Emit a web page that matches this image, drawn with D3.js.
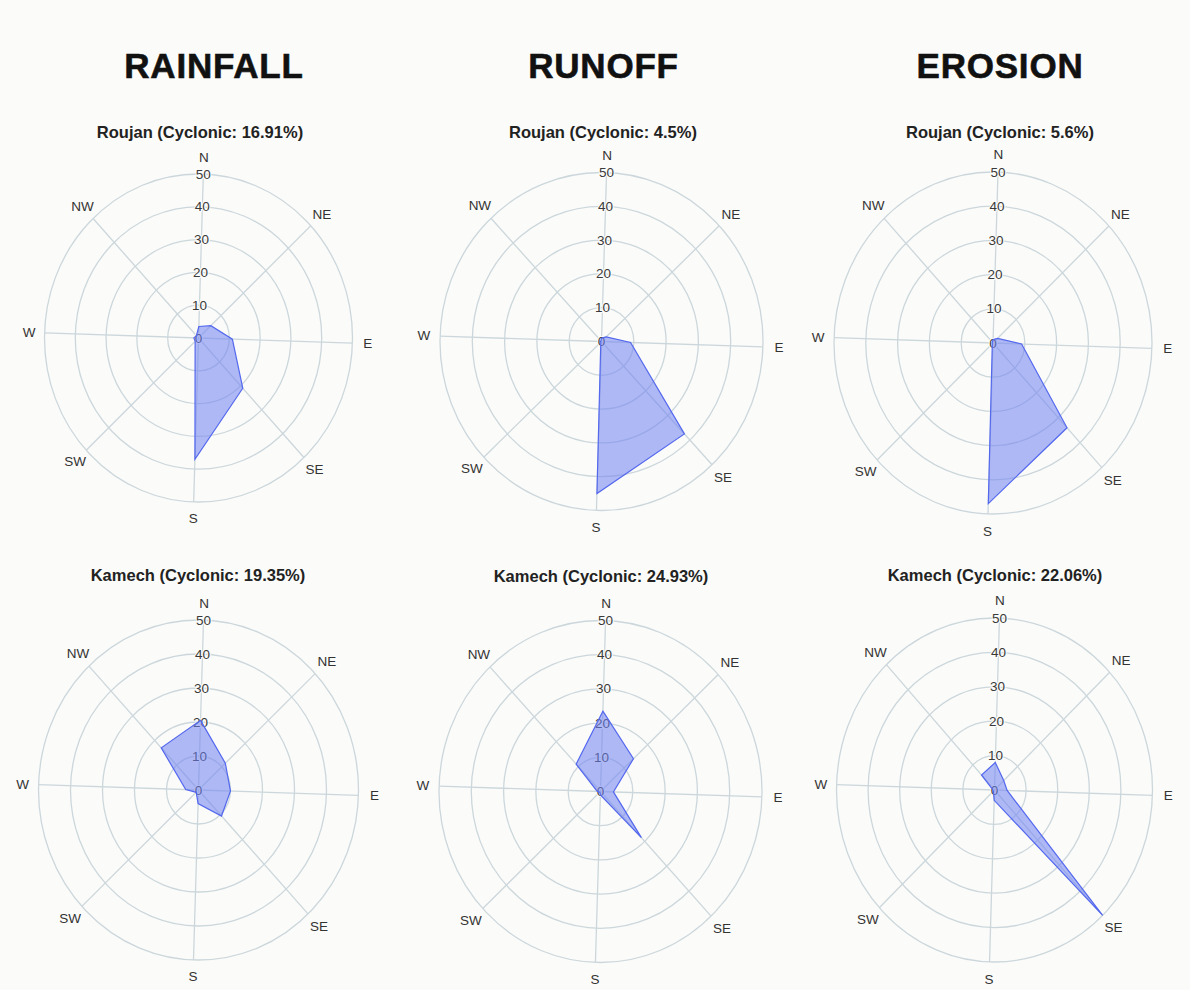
<!DOCTYPE html>
<html>
<head>
<meta charset="utf-8">
<script src="https://cdn.jsdelivr.net/npm/d3@7/dist/d3.min.js"></script>
<style>
  html, body { margin: 0; padding: 0; background: #fbfbf9; }
  svg { display: block; }
</style>
</head>
<body>
<svg id="chart" width="1190" height="990"></svg>
<script>
// ---------------- DATA ----------------
const directions = ["N", "NE", "E", "SE", "S", "SW", "W", "NW"];
const ticks = [0, 10, 20, 30, 40, 50];
const columnTitles = ["RAINFALL", "RUNOFF", "EROSION"];
const chartTitles = [
  "Roujan (Cyclonic: 16.91%)", "Roujan (Cyclonic: 4.5%)", "Roujan (Cyclonic: 5.6%)",
  "Kamech (Cyclonic: 19.35%)", "Kamech (Cyclonic: 24.93%)", "Kamech (Cyclonic: 22.06%)"
];
// values in order N, NE, E, SE, S, SW, W, NW
const roujanRainfall = [3.5, 5.5, 11, 21, 37, 1.5, 1.5, 1];
const roujanRunoff   = [1, 2, 9, 37.5, 45, 0.3, 0.3, 0.3];
const roujanErosion  = [1, 2, 9, 34, 47, 0.3, 0.3, 0.3];
const kamechRainfall = [20.5, 11.5, 10, 10.5, 4, 1, 4, 17];
const kamechRunoff   = [23.5, 14, 4, 18.5, 1, 0.3, 1, 11];
const kamechErosion  = [8, 4, 4, 50, 3, 0.5, 0.5, 6];
const seriesList = [roujanRainfall, roujanRunoff, roujanErosion, kamechRainfall, kamechRunoff, kamechErosion];

// ---------------- LAYOUT ----------------
const layout = [
  {cx: 198.5, cy: 338,   rx: 154,   ry: 164, tx: 200, ty: 138},
  {cx: 601.5, cy: 341.5, rx: 161.5, ry: 169, tx: 603, ty: 138},
  {cx: 993,   cy: 343,   rx: 159,   ry: 171, tx: 1000, ty: 138},
  {cx: 198.5, cy: 790,   rx: 160,   ry: 170, tx: 198, ty: 581},
  {cx: 600.5, cy: 791.5, rx: 161.5, ry: 171, tx: 601, ty: 582},
  {cx: 994.5, cy: 790,   rx: 158,   ry: 172, tx: 995, ty: 581}
];
const titleX = [214, 603.5, 1000];
const rotationDeg = 1.8;
const FONT = "Liberation Sans, Arial, sans-serif";

const svg = d3.select("#chart");
svg.append("rect").attr("width", 1190).attr("height", 990).attr("fill", "#fbfbf9");

svg.selectAll("text.coltitle").data(columnTitles).join("text")
  .attr("class", "coltitle")
  .attr("x", (d, i) => titleX[i]).attr("y", 78)
  .attr("text-anchor", "middle")
  .attr("font-family", FONT)
  .attr("font-weight", "bold").attr("font-size", 35)
  .attr("letter-spacing", 0.8)
  .attr("fill", "#111")
  .attr("stroke", "#111").attr("stroke-width", 0.6)
  .text(d => d);

const angleScale = d3.scalePoint().domain(directions).range([0, 315]);
const rScale = d3.scaleLinear().domain([0, 50]).range([0, 1]);

seriesList.forEach((values, i) => {
  const L = layout[i];
  const g = svg.append("g");
  const projRaw = (dir, f) => {
    const a = (angleScale(dir) + rotationDeg) * Math.PI / 180;
    return [L.cx + L.rx * f * Math.sin(a), L.cy - L.ry * f * Math.cos(a)];
  };
  const proj = (dir, v) => projRaw(dir, rScale(v));

  // title
  g.append("text")
    .attr("x", L.tx).attr("y", L.ty)
    .attr("text-anchor", "middle")
    .attr("font-family", FONT)
    .attr("font-weight", "bold").attr("font-size", 16.5)
    .attr("fill", "#222")
    .text(chartTitles[i]);

  // rings
  g.selectAll("ellipse").data(ticks.slice(1)).join("ellipse")
    .attr("cx", L.cx).attr("cy", L.cy)
    .attr("rx", d => L.rx * rScale(d)).attr("ry", d => L.ry * rScale(d))
    .attr("fill", "none").attr("stroke", "#ccd7dc").attr("stroke-width", 1.3);

  // spokes
  g.selectAll("line.spoke").data(directions).join("line")
    .attr("class", "spoke")
    .attr("x1", L.cx).attr("y1", L.cy)
    .attr("x2", d => proj(d, 50)[0]).attr("y2", d => proj(d, 50)[1])
    .attr("stroke", "#ccd7dc").attr("stroke-width", 1.3);

  // tick labels along N axis
  g.selectAll("text.tick").data(ticks).join("text")
    .attr("class", "tick")
    .attr("x", d => proj("N", d)[0]).attr("y", d => proj("N", d)[1])
    .attr("text-anchor", "middle").attr("dominant-baseline", "central")
    .attr("font-family", FONT)
    .attr("font-size", 13.5).attr("fill", "#3a3a3a")
    .attr("stroke", "#fbfbf9").attr("stroke-width", 2).attr("paint-order", "stroke")
    .text(d => d);

  // direction labels
  g.selectAll("text.dir").data(directions).join("text")
    .attr("class", "dir")
    .attr("x", d => projRaw(d, 1.1)[0]).attr("y", d => projRaw(d, 1.1)[1])
    .attr("text-anchor", "middle").attr("dominant-baseline", "central")
    .attr("font-family", FONT)
    .attr("font-size", 13.5).attr("fill", "#333")
    .text(d => d);

  // polygon
  const pts = directions.map((d, k) => proj(d, values[k]));
  g.append("path")
    .attr("d", d3.line().curve(d3.curveLinearClosed)(pts))
    .attr("fill", "#7082f2").attr("fill-opacity", 0.55)
    .attr("stroke", "#5468ee").attr("stroke-width", 1.2);
});
</script>
</body>
</html>
